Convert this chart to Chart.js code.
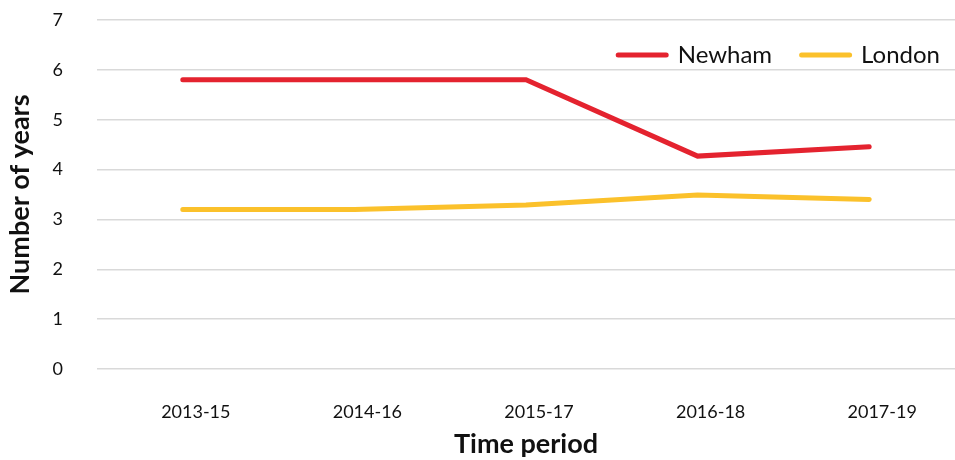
<!DOCTYPE html>
<html>
<head>
<meta charset="utf-8">
<script src="https://cdn.jsdelivr.net/npm/chart.js@4/dist/chart.umd.min.js"></script>
<style>
html,body{margin:0;padding:0;background:#fff;}
#wrap{width:955px;height:460px;position:relative;}
</style>
</head>
<body>
<div id="wrap"><canvas id="c"></canvas></div>
<script>
const categories = ['2013-15','2014-16','2015-17','2016-18','2017-19'];
const newham = [5.8, 5.8, 5.8, 4.27, 4.46];
const london = [3.2, 3.2, 3.29, 3.49, 3.4];
const yTicks = [0,1,2,3,4,5,6,7];
const seriesNames = ['Newham','London'];
const colors = ['#E4232F','#FBC12B'];

const FONT = 'Lato, "Open Sans", sans-serif';

const legendPlugin = {
  id: 'insideLegend',
  afterDraw(chart) {
    const ctx = chart.ctx;
    ctx.save();
    ctx.font = '24px ' + FONT;
    ctx.textBaseline = 'middle';
    const y = 55;
    const lineW = 53, gapLT = 9, gapItems = 27;
    let x = 940;
    const items = chart.data.datasets.map(d => ({label: d.label, color: d.borderColor}));
    for (let i = items.length - 1; i >= 0; i--) {
      const it = items[i];
      const tw = ctx.measureText(it.label).width;
      const tx = x - tw;
      ctx.fillStyle = '#111';
      ctx.textAlign = 'left';
      ctx.fillText(it.label, tx, y);
      const lx2 = tx - gapLT;
      const lx1 = lx2 - lineW;
      ctx.strokeStyle = it.color;
      ctx.lineWidth = 5;
      ctx.lineCap = 'round';
      ctx.beginPath();
      ctx.moveTo(lx1 + 2.5, y);
      ctx.lineTo(lx2 - 2.5, y);
      ctx.stroke();
      x = lx1 - gapItems;
    }
    ctx.restore();
  }
};

new Chart(document.getElementById('c'), {
  type: 'line',
  data: {
    labels: categories,
    datasets: [
      {label: seriesNames[0], data: newham, borderColor: colors[0], backgroundColor: colors[0], borderWidth: 5, pointRadius: 0, tension: 0, borderCapStyle: 'round', borderJoinStyle: 'miter'},
      {label: seriesNames[1], data: london, borderColor: colors[1], backgroundColor: colors[1], borderWidth: 5, pointRadius: 0, tension: 0, borderCapStyle: 'round', borderJoinStyle: 'miter'}
    ]
  },
  options: {
    responsive: true,
    maintainAspectRatio: false,
    animation: false,
    layout: {padding: {top: 20, right: 0, bottom: 0, left: 0}},
    plugins: {
      legend: {display: false},
      tooltip: {enabled: false}
    },
    scales: {
      x: {
        offset: true,
        grid: {display: false},
        border: {display: false},
        ticks: {color: '#111', font: {family: FONT, size: 18}, padding: 24, labelOffset: 13, maxRotation: 0},
        title: {display: true, text: 'Time period', color: '#111', font: {family: FONT, size: 27, weight: 'bold'}, padding: {top: 4, bottom: 0}},
        afterFit(s) { s.height = 91; }
      },
      y: {
        min: 0, max: 7,
        afterBuildTicks(s) { s.ticks = yTicks.map(v => ({value: v})); },
        grid: {color: '#d9d9d9', lineWidth: 1.5, drawTicks: false},
        border: {display: false},
        ticks: {color: '#111', font: {family: FONT, size: 18}, padding: 34},
        title: {display: true, text: 'Number of years', color: '#111', font: {family: FONT, size: 27, weight: 'bold'}, padding: {top: 4, bottom: 0}},
        afterFit(s) { s.width = 97; s.paddingTop = 0; s.paddingBottom = 0; }
      }
    }
  },
  plugins: [legendPlugin]
});
</script>
</body>
</html>
